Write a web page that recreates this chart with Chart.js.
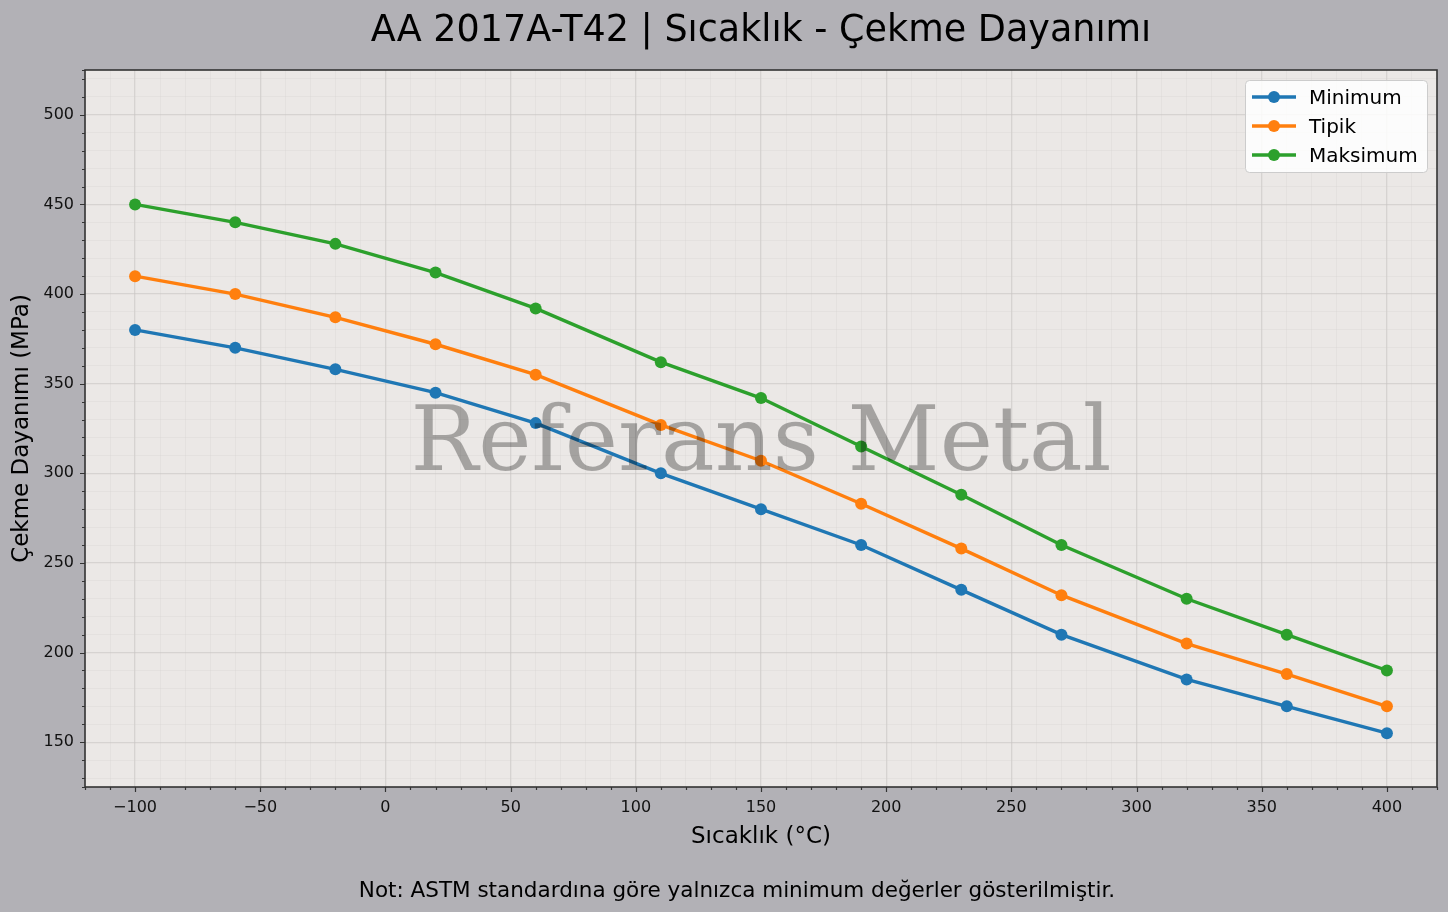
<!DOCTYPE html>
<html>
<head>
<meta charset="utf-8">
<script src="https://cdn.jsdelivr.net/npm/chart.js@4.4.1/dist/chart.umd.min.js"></script>
<style>
html,body{margin:0;padding:0;background:#b2b1b6;}
#wrap{width:1448px;height:912px;}
</style>
</head>
<body>
<div id="wrap"><canvas id="c" width="1448" height="912"></canvas></div>
<script>
const temperatures = [-100, -60, -20, 20, 60, 110, 150, 190, 230, 270, 320, 360, 400];
const minimumValues = [380, 370, 358, 345, 328, 300, 280, 260, 235, 210, 185, 170, 155];
const typicalValues = [410, 400, 387, 372, 355, 327, 307, 283, 258, 232, 205, 188, 170];
const maximumValues = [450, 440, 428, 412, 392, 362, 342, 315, 288, 260, 230, 210, 190];
const seriesNames = ['Minimum', 'Tipik', 'Maksimum'];
const xTickValues = [];
for (let v = -120; v <= 420; v += 10) xTickValues.push(v);
const yTickValues = [];
for (let v = 130; v <= 520; v += 10) yTickValues.push(v);

const titleText = 'AA 2017A-T42 | Sıcaklık - Çekme Dayanımı';
const xLabel = 'Sıcaklık (°C)';
const yLabel = 'Çekme Dayanımı (MPa)';
const noteText = 'Not: ASTM standardına göre yalnızca minimum değerler gösterilmiştir.';
const watermark = 'Referans Metal';

const colors = ['#1f77b4', '#ff7f0e', '#2ca02c'];
const FONT = "'DejaVu Sans', sans-serif";

function toPoints(vals){ return temperatures.map((t,i)=>({x:t,y:vals[i]})); }
const allSeries = [minimumValues, typicalValues, maximumValues];

const datasets = allSeries.map((vals, i) => ({
  label: seriesNames[i],
  data: toPoints(vals),
  borderColor: colors[i],
  backgroundColor: colors[i],
  borderWidth: 3.4,
  pointRadius: 6,
  pointHoverRadius: 6,
  pointBorderWidth: 0,
  tension: 0
}));

function gridColor(ctx){
  const v = ctx.tick ? ctx.tick.value : 0;
  return (Math.round(v) % 50 === 0) ? 'rgba(200,196,195,0.6)' : 'rgba(210,206,205,0.35)';
}
function gridWidth(ctx){
  const v = ctx.tick ? ctx.tick.value : 0;
  return (Math.round(v) % 50 === 0) ? 1.3 : 0.8;
}

const decor = {
  id: 'decor',
  beforeDraw(chart){
    const {ctx, chartArea:a} = chart;
    ctx.save();
    ctx.fillStyle = '#b2b1b6';
    ctx.fillRect(0,0,chart.width,chart.height);
    ctx.fillStyle = '#ebe8e6';
    ctx.fillRect(a.left, a.top, a.right-a.left, a.bottom-a.top);
    ctx.restore();
  },
  afterDatasetsDraw(chart){
    const {ctx, chartArea:a} = chart;
    ctx.save();
    ctx.font = "90px 'DejaVu Serif', serif";
    ctx.fillStyle = 'rgba(0,0,0,0.3)';
    ctx.textAlign = 'center';
    ctx.textBaseline = 'alphabetic';
    ctx.fillText(watermark, 761, 470);
    ctx.restore();
  },
  afterDraw(chart){
    const {ctx, chartArea:a, scales} = chart;
    ctx.save();
    // frame
    ctx.strokeStyle = '#333333';
    ctx.lineWidth = 1.6;
    ctx.strokeRect(a.left, a.top, a.right-a.left, a.bottom-a.top);
    // ticks
    ctx.lineWidth = 1.2;
    ctx.beginPath();
    xTickValues.forEach(v=>{
      const px = Math.round(scales.x.getPixelForValue(v))+0.5;
      const len = (v % 50 === 0) ? 5 : 3;
      ctx.moveTo(px, a.bottom); ctx.lineTo(px, a.bottom+len);
    });
    yTickValues.concat([125, 525]).forEach(v=>{
      const py = Math.round(scales.y.getPixelForValue(v))+0.5;
      const len = (v % 50 === 0) ? 5 : 3;
      ctx.moveTo(a.left, py); ctx.lineTo(a.left-len, py);
    });
    ctx.stroke();
    // title
    ctx.fillStyle = '#000';
    ctx.textAlign = 'center';
    ctx.textBaseline = 'middle';
    ctx.font = '36.5px ' + FONT;
    ctx.fillText(titleText, 761, 31.5);
    // axis labels
    ctx.font = '23px ' + FONT;
    ctx.fillText(xLabel, 761, 837);
    ctx.save();
    ctx.translate(22, (a.top+a.bottom)/2);
    ctx.rotate(-Math.PI/2);
    ctx.fillText(yLabel, 0, 0);
    ctx.restore();
    // note
    ctx.font = '21.5px ' + FONT;
    ctx.fillText(noteText, 737, 891);
    // legend
    const lx = 1245, ly = 80, lw = 182, lh = 92;
    ctx.fillStyle = 'rgba(255,255,255,0.85)';
    ctx.strokeStyle = '#cccccc';
    ctx.lineWidth = 1;
    ctx.beginPath();
    if (ctx.roundRect) ctx.roundRect(lx+0.5, ly+0.5, lw, lh, 4); else ctx.rect(lx+0.5, ly+0.5, lw, lh);
    ctx.fill(); ctx.stroke();
    ctx.font = '20px ' + FONT;
    ctx.textAlign = 'left';
    chart.data.datasets.forEach((ds,i)=>{
      const y = ly + 17 + i*29;
      ctx.strokeStyle = ds.borderColor;
      ctx.lineWidth = 3.4;
      ctx.beginPath(); ctx.moveTo(lx+7, y); ctx.lineTo(lx+51, y); ctx.stroke();
      ctx.fillStyle = ds.borderColor;
      ctx.beginPath(); ctx.arc(lx+29, y, 6, 0, Math.PI*2); ctx.fill();
      ctx.fillStyle = '#000';
      ctx.fillText(ds.label, lx+64, y+2);
    });
    ctx.restore();
  }
};

new Chart(document.getElementById('c'), {
  type: 'line',
  data: { datasets },
  options: {
    responsive: false,
    animation: false,
    devicePixelRatio: 1,
    layout: { padding: { left: 0, top: 70, right: 11, bottom: 0 } },
    plugins: { legend: { display: false }, title: { display: false }, tooltip: { enabled: false } },
    scales: {
      x: {
        type: 'linear', min: -120, max: 420,
        afterBuildTicks(scale){ scale.ticks = xTickValues.map(v=>({value:v})); },
        afterFit(scale){ scale.height = 125; },
        ticks: {
          autoSkip: false, maxRotation: 0, padding: 11,
          color: '#111', font: { family: FONT, size: 16 },
          callback(v){ return (v % 50 === 0) ? (v < 0 ? '\u2212' + Math.abs(v) : String(v)) : ''; }
        },
        grid: { color: gridColor, lineWidth: gridWidth, drawTicks: false },
        border: { display: false }
      },
      y: {
        type: 'linear', min: 125, max: 525,
        afterBuildTicks(scale){ scale.ticks = yTickValues.map(v=>({value:v})); },
        afterFit(scale){ scale.width = 85; },
        ticks: {
          autoSkip: false, padding: 11,
          color: '#111', font: { family: FONT, size: 16 },
          callback(v){ return (v % 50 === 0) ? String(v) : ''; }
        },
        grid: { color: gridColor, lineWidth: gridWidth, drawTicks: false },
        border: { display: false }
      }
    }
  },
  plugins: [decor]
});
</script>
</body>
</html>
